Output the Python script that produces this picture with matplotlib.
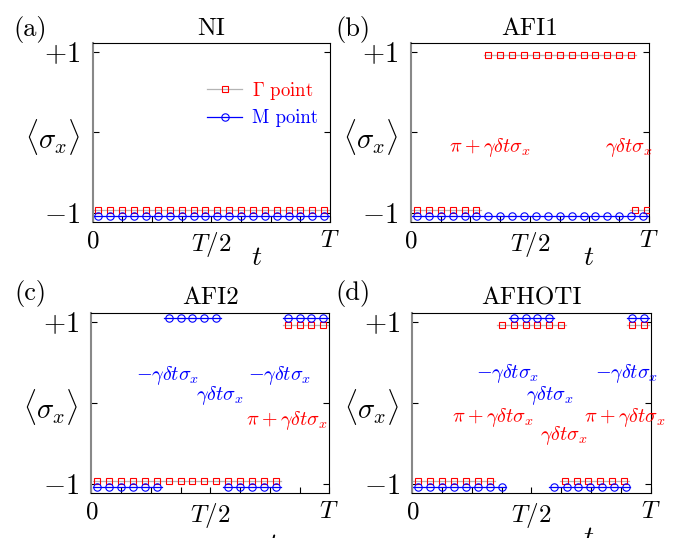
import numpy as np
import matplotlib
matplotlib.use("Agg")
import matplotlib.pyplot as plt
from matplotlib.lines import Line2D

plt.rcParams["font.family"] = ["cmr10", "DejaVu Serif"]
plt.rcParams["mathtext.fontset"] = "cm"
plt.rcParams["axes.unicode_minus"] = False

# time in units of T, <sigma_x> = -1 / +1
T_GRID = [0.025, 0.075, 0.125, 0.175, 0.225, 0.275, 0.325, 0.375, 0.425, 0.475,
          0.525, 0.575, 0.625, 0.675, 0.725, 0.775, 0.825, 0.875, 0.925, 0.975]

# (a) NI
NI_GAMMA_T = T_GRID
NI_GAMMA_S = [-1, -1, -1, -1, -1, -1, -1, -1, -1, -1, -1, -1, -1, -1, -1, -1, -1, -1, -1, -1]
NI_M_T = T_GRID
NI_M_S = [-1, -1, -1, -1, -1, -1, -1, -1, -1, -1, -1, -1, -1, -1, -1, -1, -1, -1, -1, -1]

# (b) AFI1
AFI1_GAMMA_T = [0.025, 0.075, 0.125, 0.175, 0.225, 0.275, 0.325, 0.375, 0.425, 0.475, 0.525,
                0.575, 0.625, 0.675, 0.725, 0.775, 0.825, 0.875, 0.925, 0.941, 0.992]
AFI1_GAMMA_S = [-1, -1, -1, -1, -1, -1, 1, 1, 1, 1, 1, 1, 1, 1, 1, 1, 1, 1, 1, -1, -1]
AFI1_M_T = T_GRID
AFI1_M_S = [-1, -1, -1, -1, -1, -1, -1, -1, -1, -1, -1, -1, -1, -1, -1, -1, -1, -1, -1, -1]

# (c) AFI2
AFI2_GAMMA_T = T_GRID
AFI2_GAMMA_S = [-1, -1, -1, -1, -1, -1, -1, -1, -1, -1, -1, -1, -1, -1, -1, -1, 1, 1, 1, 1]
AFI2_M_T = T_GRID
AFI2_M_S = [-1, -1, -1, -1, -1, -1, 1, 1, 1, 1, 1, -1, -1, -1, -1, -1, 1, 1, 1, 1]

# (d) AFHOTI
AFHOTI_GAMMA_T = [0.025, 0.075, 0.125, 0.175, 0.225, 0.275, 0.325, 0.375, 0.425, 0.475, 0.525,
                  0.575, 0.625, 0.640, 0.689, 0.737, 0.789, 0.838, 0.888, 0.922, 0.972]
AFHOTI_GAMMA_S = [-1, -1, -1, -1, -1, -1, -1, 1, 1, 1, 1, 1, 1, -1, -1, -1, -1, -1, -1, 1, 1]
AFHOTI_M_T = [0.025, 0.075, 0.125, 0.175, 0.225, 0.275, 0.325, 0.375, 0.425, 0.475, 0.525,
              0.575, 0.594, 0.647, 0.696, 0.744, 0.796, 0.845, 0.895, 0.922, 0.972]
AFHOTI_M_S = [-1, -1, -1, -1, -1, -1, -1, -1, 1, 1, 1, 1, -1, -1, -1, -1, -1, -1, -1, 1, 1]

PANEL_LABELS = ["(a)", "(b)", "(c)", "(d)"]
PANEL_TITLES = ["NI", "AFI1", "AFI2", "AFHOTI"]

# (text, t, y, colour)
AFI1_NOTES = [(r"$\pi+\gamma\delta t\sigma_x$", 0.33, -0.19, "red"),
              (r"$\gamma\delta t\sigma_x$", 0.915, -0.19, "red")]
AFI2_NOTES = [(r"$-\gamma\delta t\sigma_x$", 0.32, 0.34, "blue"),
              (r"$\gamma\delta t\sigma_x$", 0.54, 0.09, "blue"),
              (r"$-\gamma\delta t\sigma_x$", 0.79, 0.34, "blue"),
              (r"$\pi+\gamma\delta t\sigma_x$", 0.82, -0.22, "red")]
AFHOTI_NOTES = [(r"$-\gamma\delta t\sigma_x$", 0.40, 0.36, "blue"),
                (r"$\gamma\delta t\sigma_x$", 0.575, 0.09, "blue"),
                (r"$-\gamma\delta t\sigma_x$", 0.90, 0.36, "blue"),
                (r"$\pi+\gamma\delta t\sigma_x$", 0.336, -0.18, "red"),
                (r"$\gamma\delta t\sigma_x$", 0.637, -0.40, "red"),
                (r"$\pi+\gamma\delta t\sigma_x$", 0.89, -0.18, "red")]

EXT = 0.02          # line overhang past first/last marker
G_SHIFT = 0.96      # Gamma drawn slightly inside, M slightly outside
M_SHIFT = 1.04
GRAY = "#b4b4b4"
SQ_MS = 5.0
CI_MS = 5.3


def draw_series(ax, t, s, shift, line_color, marker, mcolor, ms):
    t = np.asarray(t, dtype=float)
    y = np.asarray(s, dtype=float) * shift
    start = 0
    for i in range(1, len(s) + 1):
        if i == len(s) or s[i] != s[start]:
            ax.plot([max(t[start] - EXT, 0), min(t[i - 1] + EXT, 1)], [y[start], y[start]],
                    color=line_color, lw=0.9, zorder=2)
            start = i
    ax.plot(t, y, ls="none", marker=marker, mfc="none", mec=mcolor, ms=ms, mew=0.8, zorder=3)


fig = plt.figure(figsize=(6.73, 5.38), dpi=100)
positions = [[0.1375, 0.588, 0.353, 0.332],
             [0.6107, 0.588, 0.3536, 0.332],
             [0.1357, 0.0842, 0.3536, 0.3346],
             [0.6126, 0.0842, 0.3542, 0.3346]]
data = [(NI_GAMMA_T, NI_GAMMA_S, NI_M_T, NI_M_S, []),
        (AFI1_GAMMA_T, AFI1_GAMMA_S, AFI1_M_T, AFI1_M_S, AFI1_NOTES),
        (AFI2_GAMMA_T, AFI2_GAMMA_S, AFI2_M_T, AFI2_M_S, AFI2_NOTES),
        (AFHOTI_GAMMA_T, AFHOTI_GAMMA_S, AFHOTI_M_T, AFHOTI_M_S, AFHOTI_NOTES)]
label_xy = [(0.045, 0.945), (0.525, 0.945), (0.045, 0.455), (0.525, 0.455)]
t_label_xy = [(0.69, -0.20), (0.748, -0.20), (0.76, -0.29), (0.74, -0.25)]

for k in range(4):
    ax = fig.add_axes(positions[k])
    gt, gs, mt, ms_, notes = data[k]
    draw_series(ax, gt, gs, G_SHIFT, GRAY, "s", "red", SQ_MS)
    draw_series(ax, mt, ms_, M_SHIFT, "blue", "o", "blue", CI_MS)

    for txt, x, y, c in notes:
        ax.text(x, y, txt, color=c, fontsize=14.5, ha="center", va="center")

    ax.set_xlim(0, 1)
    ax.set_ylim(-1.11, 1.11)
    ax.set_yticks([-1, 0, 1])
    ax.set_yticklabels([r"$-1$", r"$\langle\sigma_x\rangle$", r"$+1$"])
    ax.set_xticks([0, 0.125, 0.25, 0.375, 0.5, 0.625, 0.75, 0.875, 1])
    ax.set_xticklabels([r"$0$", "", "", "", r"$T/2$", "", "", "", r"$T$"])
    ax.tick_params(axis="y", direction="in", left=True, right=True, length=4,
                   labelsize=20.5, pad=9)
    ax.tick_params(axis="x", direction="in", top=False, length=4, labelsize=18, pad=6)
    ax.spines["left"].set_color("#888888")
    ax.spines["left"].set_linewidth(1.5)
    ax.set_title(PANEL_TITLES[k], fontsize=18, pad=6)
    ax.text(t_label_xy[k][0], t_label_xy[k][1], r"$t$", transform=ax.transAxes,
            fontsize=20, ha="center", va="center")
    fig.text(label_xy[k][0], label_xy[k][1], PANEL_LABELS[k], fontsize=19,
             ha="center", va="center")

    if k == 0:
        handles = [Line2D([], [], color=GRAY, lw=0.9, marker="s", mfc="none", mec="red",
                          ms=SQ_MS, mew=0.8),
                   Line2D([], [], color="blue", lw=0.9, marker="o", mfc="none", mec="blue",
                          ms=CI_MS, mew=0.8)]
        leg = ax.legend(handles, [r"$\Gamma$ point", "M point"], loc="upper left",
                        bbox_to_anchor=(0.41, 0.89), frameon=False, fontsize=13.5,
                        handlelength=1.9, handletextpad=0.5, labelspacing=0.4)
        for txt, c in zip(leg.get_texts(), ["red", "blue"]):
            txt.set_color(c)

fig.savefig("out.png", dpi=100)
